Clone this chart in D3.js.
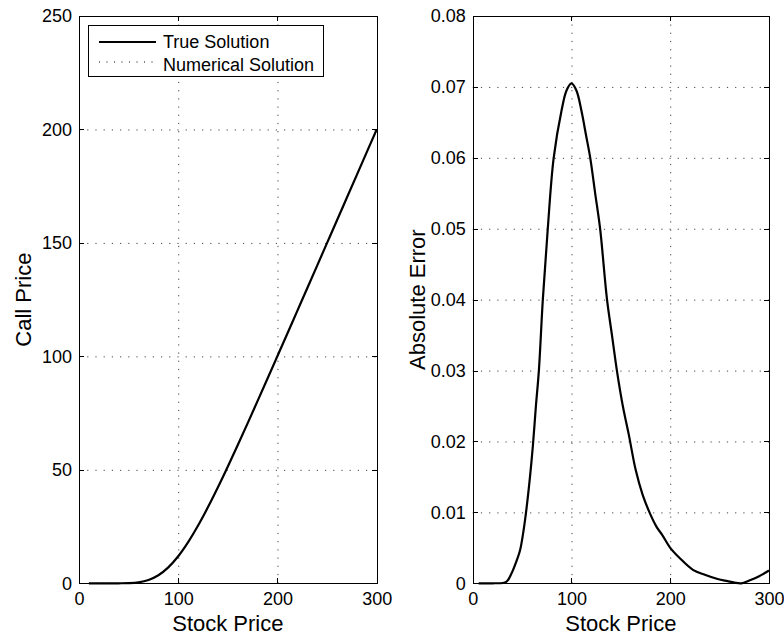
<!DOCTYPE html>
<html>
  <head>
    <meta charset="utf-8">
    <script type="text/javascript" src="https://cdn.jsdelivr.net/npm/d3@7"></script>
    <style>
      body { margin: 0; background: #fff; }
      text { font-family: "Liberation Sans", Arial, Helvetica, sans-serif; fill: #000; }
      .axis path, .axis line { stroke: #000; stroke-width: 1; shape-rendering: crispEdges; }
      .axis text { font-size: 18px; }
      .grid line { stroke: #444; stroke-width: 1; stroke-dasharray: 1.2,7; }
      .grid path { stroke: none; }
    </style>
  </head>
  <body>
    <script type="text/javascript">
      // Left panel: option price against stock price
      var stockPrice = [10, 20, 30, 40, 50, 60, 70, 80, 90, 100, 110, 120, 130, 140, 150,
                        160, 170, 180, 190, 200, 210, 220, 230, 240, 250, 260, 270, 280, 290, 300];
      var callPrice = [0, 0, 0, 0.01, 0.07, 0.42, 1.43, 3.53, 7.01, 11.92, 18.14, 25.44, 33.58, 42.32, 51.49,
                       60.95, 70.6, 80.37, 90.24, 100.16, 110.1, 120.07, 130.04, 140.02, 150.01, 160, 170, 180, 190, 200];
      // numerical solution lies on top of the true one at this scale
      var numericalPrice = callPrice.slice();

      // Right panel: absolute error of the numerical solution
      var errorStock = [6, 20, 34, 39, 44, 48, 51, 54, 58, 61, 64, 67, 71, 76, 82, 90, 95, 100, 105, 110,
                        115, 119, 124, 129, 136, 141, 146, 152, 158, 165, 172, 179, 186, 192, 200, 210,
                        223, 235, 248, 258, 265, 272, 280, 290, 300];
      var absError = [0, 0, 0.0002, 0.0013, 0.0030, 0.0047, 0.0070, 0.0100, 0.0150, 0.0195, 0.0250, 0.0300,
                      0.0400, 0.0500, 0.0600, 0.0667, 0.0695, 0.0705, 0.0695, 0.0667, 0.0630, 0.0600, 0.0550,
                      0.0500, 0.0400, 0.0350, 0.0300, 0.0250, 0.0210, 0.0160, 0.0125, 0.0100, 0.0080, 0.0068,
                      0.0050, 0.0035, 0.0019, 0.0012, 0.0006, 0.0003, 0.0001, 0.0000, 0.0004, 0.0010, 0.0018];

      var xTicks = [0, 100, 200, 300];
      var callTicks = [0, 50, 100, 150, 200, 250];
      var errorTicks = [0, 0.01, 0.02, 0.03, 0.04, 0.05, 0.06, 0.07, 0.08];
      var legendLabels = ["True Solution", "Numerical Solution"];

      var width = 784;
      var height = 636;
      var svg = d3.select("body")
                  .append("svg")
                  .attr("width", width)
                  .attr("height", height);

      // Draw one MATLAB-like panel
      function panel(left, right, xs, ys, yDomain, yTicks, yLabel, yFormat, extra) {
        var top = 16;
        var bottom = 583.3;
        var scaleX = d3.scaleLinear().domain([0, 300]).range([left, right]);
        var scaleY = d3.scaleLinear().domain(yDomain).range([bottom, top]);
        var g = svg.append("g");

        // grid
        g.append("g")
         .attr("class", "grid")
         .attr("transform", "translate(0," + bottom + ")")
         .call(d3.axisBottom(scaleX).tickValues(xTicks.slice(1, -1)).tickSize(-(bottom - top)).tickFormat(""));
        g.append("g")
         .attr("class", "grid")
         .attr("transform", "translate(" + left + ",0)")
         .call(d3.axisLeft(scaleY).tickValues(yTicks.slice(1, -1)).tickSize(-(right - left)).tickFormat(""));

        // curves
        var line = d3.line()
                     .x(function(d) { return scaleX(d[0]); })
                     .y(function(d) { return scaleY(d[1]); })
                     .curve(d3.curveCatmullRom.alpha(0.5));
        g.append("path")
         .datum(d3.zip(xs, ys))
         .attr("d", line)
         .attr("fill", "none")
         .attr("stroke", "#000")
         .attr("stroke-width", 2.2);
        if (extra) {
          g.append("path")
           .datum(d3.zip(xs, extra))
           .attr("d", line)
           .attr("fill", "none")
           .attr("stroke", "#000")
           .attr("stroke-width", 1)
           .attr("stroke-dasharray", "1,6");
        }

        // axes, ticks pointing inward on all sides
        g.append("g")
         .attr("class", "axis")
         .attr("transform", "translate(0," + bottom + ")")
         .call(d3.axisBottom(scaleX).tickValues(xTicks).tickSizeInner(-5).tickSizeOuter(0).tickPadding(9));
        g.append("g")
         .attr("class", "axis")
         .attr("transform", "translate(0," + top + ")")
         .call(d3.axisTop(scaleX).tickValues(xTicks).tickSizeInner(-5).tickSizeOuter(0).tickFormat(""));
        g.append("g")
         .attr("class", "axis")
         .attr("transform", "translate(" + left + ",0)")
         .call(d3.axisLeft(scaleY).tickValues(yTicks).tickSizeInner(-5).tickSizeOuter(0).tickPadding(7).tickFormat(yFormat));
        g.append("g")
         .attr("class", "axis")
         .attr("transform", "translate(" + right + ",0)")
         .call(d3.axisRight(scaleY).tickValues(yTicks).tickSizeInner(-5).tickSizeOuter(0).tickFormat(""));

        // axis labels
        g.append("text")
         .text("Stock Price")
         .attr("x", (left + right) / 2)
         .attr("y", 631)
         .attr("text-anchor", "middle")
         .style("font-size", "22px");
        g.append("text")
         .text(yLabel)
         .attr("text-anchor", "middle")
         .attr("transform", "translate(" + (left - 48) + "," + ((top + bottom) / 2) + ") rotate(-90)")
         .style("font-size", "22px");

        return scaleX;
      }

      panel(79, 376.7, stockPrice, callPrice, [0, 250], callTicks, "Call Price", d3.format("d"), numericalPrice);
      panel(472.7, 769, errorStock, absError, [0, 0.08], errorTicks, "Absolute Error",
            function(d) { return d === 0 ? "0" : d3.format(".2f")(d); }, null);

      // Legend
      var legend = svg.append("g");
      legend.append("rect")
            .attr("x", 88.5)
            .attr("y", 25.5)
            .attr("width", 235)
            .attr("height", 51)
            .attr("fill", "#fff")
            .attr("stroke", "#000")
            .attr("stroke-width", 1);
      legend.selectAll("line")
            .data(legendLabels)
            .enter()
            .append("line")
            .attr("x1", 99)
            .attr("x2", 156)
            .attr("y1", function(d, i) { return 42 + i * 20; })
            .attr("y2", function(d, i) { return 42 + i * 20; })
            .attr("stroke", "#000")
            .attr("stroke-width", function(d, i) { return i == 0 ? 2 : 1; })
            .attr("stroke-dasharray", function(d, i) { return i == 0 ? null : "1,6.5"; });
      legend.selectAll("text")
            .data(legendLabels)
            .enter()
            .append("text")
            .text(function(d) { return d; })
            .attr("x", 163)
            .attr("y", function(d, i) { return 48 + i * 23; })
            .style("font-size", "18px");
    </script>
  </body>
</html>
